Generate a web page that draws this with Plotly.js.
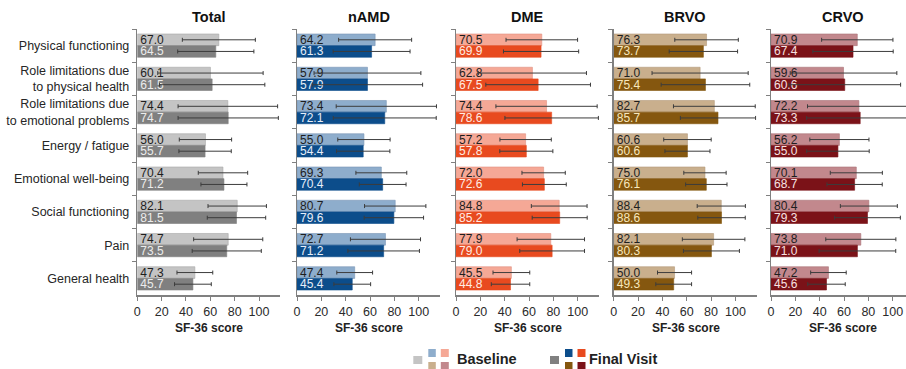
<!DOCTYPE html>
<html>
<head>
<meta charset="utf-8">
<script src="https://cdn.plot.ly/plotly-3.0.1.min.js"></script>
<style>
html,body{margin:0;padding:0;background:#fff;overflow:hidden;}
#chart{width:906px;height:369px;}
</style>
</head>
<body>
<div id="chart"></div>
<script>
// ---------- data ----------
const categories = [
  "Physical functioning",
  "Role limitations due<br>to physical health",
  "Role limitations due<br>to emotional problems",
  "Energy / fatigue",
  "Emotional well-being",
  "Social functioning",
  "Pain",
  "General health"
];
const groups = ["Total", "nAMD", "DME", "BRVO", "CRVO"];

const totalBaseline = [67.0, 60.1, 74.4, 56.0, 70.4, 82.1, 74.7, 47.3];
const totalFinal    = [64.5, 61.5, 74.7, 55.7, 71.2, 81.5, 73.5, 45.7];
const namdBaseline  = [64.2, 57.9, 73.4, 55.0, 69.3, 80.7, 72.7, 47.4];
const namdFinal     = [61.3, 57.9, 72.1, 54.4, 70.4, 79.6, 71.2, 45.4];
const dmeBaseline   = [70.5, 62.8, 74.4, 57.2, 72.0, 84.8, 77.9, 45.5];
const dmeFinal      = [69.9, 67.5, 78.6, 57.8, 72.6, 85.2, 79.0, 44.8];
const brvoBaseline  = [76.3, 71.0, 82.7, 60.6, 75.0, 88.4, 82.1, 50.0];
const brvoFinal     = [73.7, 75.4, 85.7, 60.6, 76.1, 88.6, 80.3, 49.3];
const crvoBaseline  = [70.9, 59.6, 72.2, 56.2, 70.1, 80.4, 73.8, 47.2];
const crvoFinal     = [67.4, 60.6, 73.3, 55.0, 68.7, 79.3, 71.0, 45.6];

// standard deviations (error bars)
const totalBaselineSD = [30.0, 43.3, 40.9, 21.5, 20.3, 24.0, 28.4, 14.7];
const totalFinalSD    = [31.3, 43.3, 41.2, 21.5, 18.9, 24.0, 28.4, 15.1];
const namdBaselineSD  = [30.0, 43.9, 41.2, 21.5, 20.9, 25.2, 28.8, 14.7];
const namdFinalSD     = [31.6, 45.3, 42.3, 21.9, 19.2, 24.4, 29.4, 15.1];
const dmeBaselineSD   = [29.4, 44.4, 41.6, 21.1, 17.8, 22.9, 27.7, 15.1];
const dmeFinalSD      = [30.9, 43.0, 38.4, 21.8, 18.0, 22.6, 26.6, 15.8];
const brvoBaselineSD  = [26.1, 39.5, 33.6, 19.5, 17.4, 19.8, 25.7, 14.0];
const brvoFinalSD     = [28.1, 36.4, 30.9, 18.5, 17.0, 19.5, 23.0, 14.7];
const crvoBaselineSD  = [29.3, 43.8, 42.2, 24.3, 21.4, 23.4, 28.8, 14.6];
const crvoFinalSD     = [33.0, 45.9, 44.0, 25.7, 22.7, 27.0, 31.5, 15.4];

const xTicks = [0, 20, 40, 60, 80, 100];
const xAxisTitle = "SF-36 score";
const legendLabels = ["Baseline", "Final Visit"];

// ---------- styling ----------
const W = 906, H = 369;
const FONT = "Liberation Sans, Arial, Helvetica, sans-serif";
const baseColors  = ["#c4c4c4", "#8eadcc", "#f5a896", "#c9af8d", "#c2888d"];
const finalColors = ["#808080", "#0c4d8b", "#e84a1f", "#85570f", "#7b1218"];
const finalTextColors = ["#ececec", "#e6eef8", "#ffece4", "#f7e7bd", "#f7e2e2"];
const baseLine  = ["#a8a8a8", "#7896b6", "#e0917f", "#b39878", "#a97277"];

const panelX0 = [137.3, 297, 456, 613.7, 771];   // px of each panel's left edge
const panelW = 143;
const fullRange = 117.5;
const plotTop = 29, plotBottom = 295;

const px = v => v / W;
const py = v => 1 - v / H;

const baselineData = [totalBaseline, namdBaseline, dmeBaseline, brvoBaseline, crvoBaseline];
const finalData = [totalFinal, namdFinal, dmeFinal, brvoFinal, crvoFinal];
const baselineSD = [totalBaselineSD, namdBaselineSD, dmeBaselineSD, brvoBaselineSD, crvoBaselineSD];
const finalSD = [totalFinalSD, namdFinalSD, dmeFinalSD, brvoFinalSD, crvoFinalSD];

const traces = [];
const layout = {
  width: W, height: H,
  margin: {l: 0, r: 0, t: 0, b: 0, pad: 0},
  paper_bgcolor: "#fff", plot_bgcolor: "rgba(0,0,0,0)",
  showlegend: false,
  barmode: "group",
  bargap: 0.3,
  bargroupgap: 0,
  font: {family: FONT, color: "#2b2b2b"},
  annotations: [],
  shapes: []
};

groups.forEach((g, i) => {
  const n = i === 0 ? "" : String(i + 1);
  const xa = "x" + n, ya = "y" + n;
  const common = {
    type: "bar", orientation: "h", y: categories,
    xaxis: xa, yaxis: ya,
    textposition: "inside", insidetextanchor: "start",
    textangle: 0, constraintext: "none",
    texttemplate: "%{x:.1f}", hoverinfo: "x+y",
    cliponaxis: true
  };
  traces.push(Object.assign({}, common, {
    name: legendLabels[0], x: baselineData[i],
    marker: {color: baseColors[i], line: {color: baseLine[i], width: 0.6}},
    insidetextfont: {family: FONT, size: 12, color: "#1e1e1e"},
    error_x: {type: "data", array: baselineSD[i], visible: true, color: "#3c3c3c", thickness: 1, width: 2}
  }));
  traces.push(Object.assign({}, common, {
    name: legendLabels[1], x: finalData[i],
    marker: {color: finalColors[i], line: {color: finalColors[i], width: 0.6}},
    insidetextfont: {family: FONT, size: 12, color: finalTextColors[i]},
    error_x: {type: "data", array: finalSD[i], visible: true, color: "#3c3c3c", thickness: 1, width: 2}
  }));

  const x0 = panelX0[i];
  const x1 = Math.min(x0 + panelW, W);
  const rng = fullRange * (x1 - x0) / panelW;
  layout["xaxis" + n] = {
    domain: [px(x0), px(x1)],
    anchor: ya,
    range: [0, rng],
    tickmode: "array", tickvals: xTicks,
    ticks: "outside", ticklen: 4, tickwidth: 1, tickcolor: "#808080",
    showline: true, linecolor: "#808080", linewidth: 1.5,
    showgrid: false, zeroline: false,
    tickfont: {family: FONT, size: 12.5, color: "#2b2b2b"},
    fixedrange: true
  };
  layout["yaxis" + n] = {
    domain: [py(plotBottom), py(plotTop)],
    anchor: xa,
    type: "category",
    categoryorder: "array", categoryarray: categories,
    range: [categories.length - 0.5, -0.5],
    tickson: "boundaries",
    ticks: "outside", ticklen: 4, tickwidth: 1, tickcolor: "#808080",
    showline: true, linecolor: "#808080", linewidth: 1.5,
    showgrid: false, zeroline: false,
    showticklabels: i === 0,
    ticklabelstandoff: 4,
    tickfont: {family: FONT, size: 12.5, color: "#262626"},
    fixedrange: true
  };
  // panel title
  layout.annotations.push({
    text: "<b>" + g + "</b>", xref: "paper", yref: "paper",
    x: px(x0 + panelW / 2), y: py(17), xanchor: "center", yanchor: "middle",
    showarrow: false, font: {family: FONT, size: 14.5, color: "#111"}
  });
  // x-axis title
  layout.annotations.push({
    text: "<b>" + xAxisTitle + "</b>", xref: "paper", yref: "paper",
    x: px(x0 + panelW / 2 + 0.5), y: py(328), xanchor: "center", yanchor: "middle",
    showarrow: false, font: {family: FONT, size: 12, color: "#222"}
  });
});

// ---------- legend (colour swatches + labels) ----------
function swatchGroup(colors, leftX, labelX, label) {
  const boxes = [
    [leftX, 356, leftX + 9, 364, colors[0]],
    [leftX + 15, 349, leftX + 22.5, 357, colors[1]],
    [leftX + 27.5, 349, leftX + 35.5, 357, colors[2]],
    [leftX + 15, 362, leftX + 22.5, 372, colors[3]],
    [leftX + 27.5, 362, leftX + 35.5, 372, colors[4]]
  ];
  boxes.forEach(b => layout.shapes.push({
    type: "rect", xref: "paper", yref: "paper",
    x0: px(b[0]), x1: px(b[2]), y0: py(b[3]), y1: py(b[1]),
    fillcolor: b[4], line: {width: 0}
  }));
  layout.annotations.push({
    text: "<b>" + label + "</b>", xref: "paper", yref: "paper",
    x: px(labelX), y: py(359), xanchor: "left", yanchor: "middle",
    showarrow: false, font: {family: FONT, size: 14.5, color: "#222"}
  });
}
swatchGroup(baseColors, 413.3, 455.5, legendLabels[0]);
swatchGroup(finalColors, 550, 586.5, legendLabels[1]);

Plotly.newPlot("chart", traces, layout, {displayModeBar: false, staticPlot: true});
</script>
</body>
</html>
